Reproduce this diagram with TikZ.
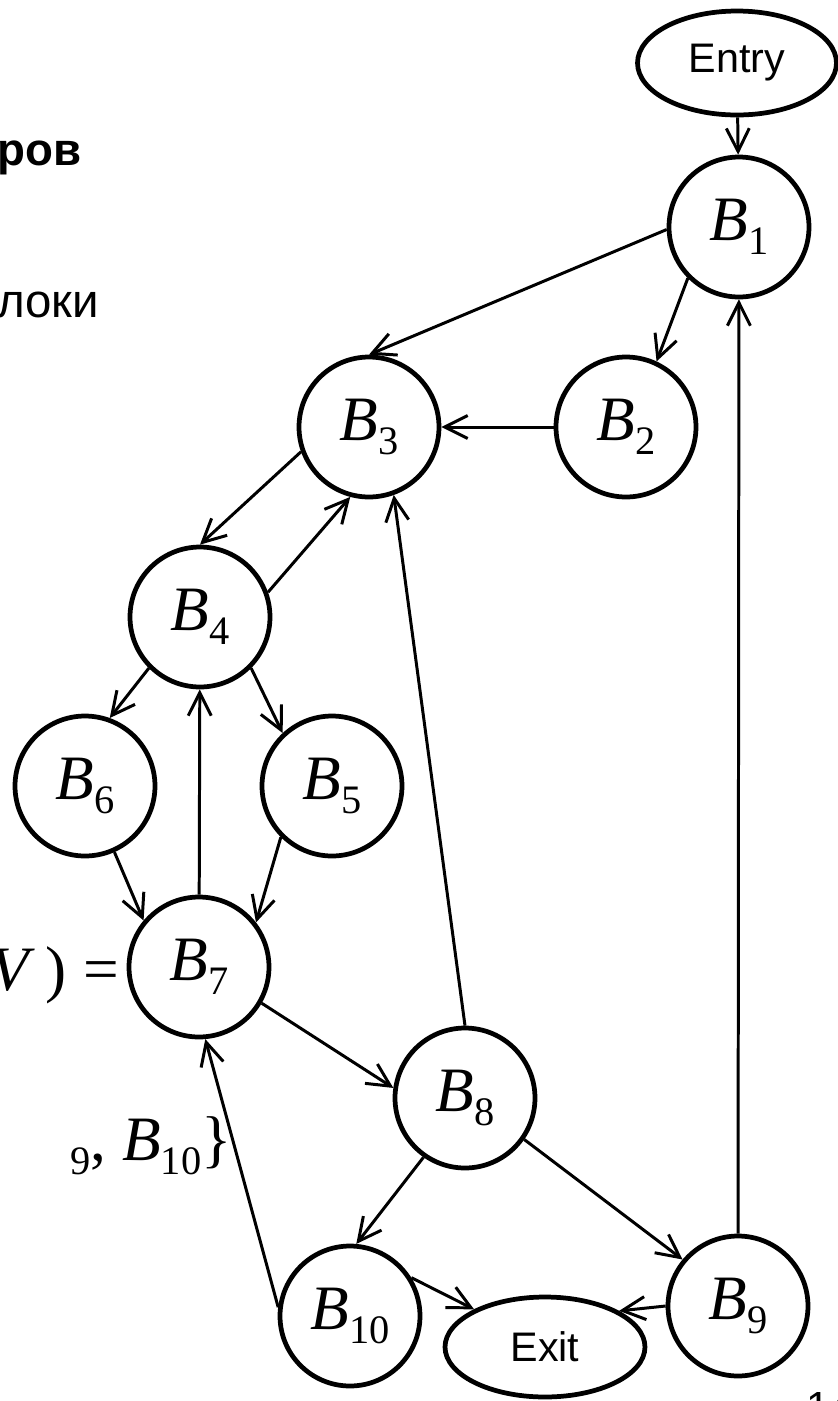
\documentclass[tikz,border=0pt]{standalone}
\usepackage{fontspec}
\setmainfont{Liberation Serif}
\setsansfont{Liberation Sans}
\usetikzlibrary{shapes.geometric,arrows.meta}

\newcommand{\subn}[1]{\raisebox{-8pt}{\fontsize{23}{23}\selectfont #1}}
\newcommand{\blk}[1]{\textit{B}\subn{#1}}

\tikzset{
  blk/.style={circle,draw,line width=2.7pt,minimum size=2.8cm,inner sep=0pt,
    font=\fontsize{36}{36}\selectfont},
  term/.style={ellipse,draw,line width=2.7pt,inner sep=0pt,
    font=\sffamily\fontsize{23.5}{23.5}\selectfont},
  edge/.style={line width=1.7pt,-{Straight Barb[length=4.6mm,width=4.6mm]}},
}

\begin{document}
\begin{tikzpicture}[x=0.02cm,y=-0.02cm]
    \useasboundingbox (0,0) rectangle (838,1401);
    \clip (0,0) rectangle (838,1401);
    % leftover slide text
    \node[anchor=base east,inner sep=0,font=\sffamily\bfseries\fontsize{26}{26}\selectfont]
      (t1) at (82,165) {ров};
    \node[anchor=base west,inner sep=0,font=\sffamily\fontsize{27}{27}\selectfont]
      (t2) at (-3,317) {локи};
    \node[anchor=base east,inner sep=0,font=\fontsize{36}{36}\selectfont]
      (t3) at (120,990) {\textit{V}\,)\;=};
    \node[anchor=base east,inner sep=0,font=\fontsize{36}{36}\selectfont]
      (t4) at (232,1160) {\subn{9}, \blk{10}\}};
    \node[anchor=north west,inner sep=0,font=\sffamily\fontsize{24}{24}\selectfont]
      (pg) at (806,1392) {14};
    % blocks
    \node[term,minimum width=3.98cm,minimum height=2.08cm] (entry) at (737,63) {Entry};
    \node[blk] (b1) at (739,227) {\blk{1}};
    \node[blk] (b2) at (626,427) {\blk{2}};
    \node[blk] (b3) at (369,427) {\blk{3}};
    \node[blk] (b4) at (200,617) {\blk{4}};
    \node[blk] (b5) at (332,786) {\blk{5}};
    \node[blk] (b6) at (85,786) {\blk{6}};
    \node[blk] (b7) at (199,967) {\blk{7}};
    \node[blk] (b8) at (465,1098) {\blk{8}};
    \node[blk] (b9) at (738,1306) {\blk{9}};
    \node[blk] (b10) at (350,1316) {\blk{10}};
    \node[term,minimum width=4cm,minimum height=2cm] (exit) at (545,1347) {Exit};
    % edges
    \draw[edge] (entry) -- (b1);
    \draw[edge] (b1.182) -- (b3.north);
    \draw[edge] (b1.225) -- (b2.65);
    \draw[edge] (b2) -- (b3);
    \draw[edge] (b3.200) -- (b4.north);
    \draw[edge] (b4.20) -- (b3.255);
    \draw[edge] (b4.225) -- (b6.70);
    \draw[edge] (b4.315) -- (b5.133);
    \draw[edge] (b7) -- (b4);
    \draw[edge] (b6.294) -- (b7.140);
    \draw[edge] (b5.225) -- (b7.38);
    \draw[edge] (b7.330) -- (b8.172);
    \draw[edge] (b8.north) -- (b3.290);
    \draw[edge] (b8.235) -- (b10.85);
    \draw[edge] (b8.325) -- (b9.140);
    \draw[edge] (b10.173) -- (b7.275);
    \draw[edge] (b9) -- (b1);
    \draw[edge] (b10.32) -- (exit.152);
    \draw[edge] (b9.west) -- (exit.26);
\end{tikzpicture}
\end{document}
